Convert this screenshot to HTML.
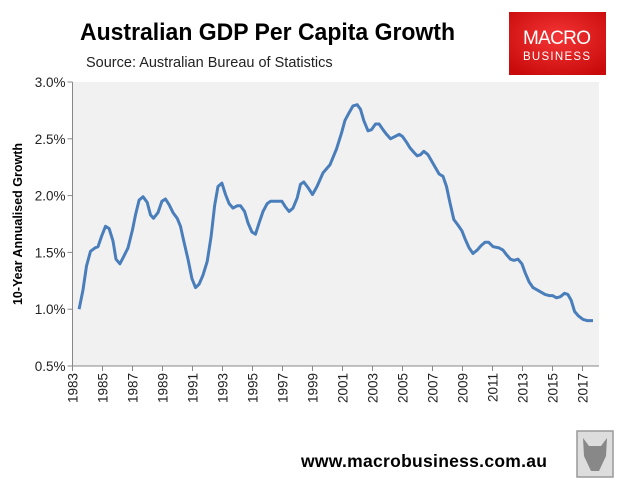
<!DOCTYPE html>
<html><head><meta charset="utf-8"><style>
body{margin:0;background:#fff;width:624px;height:489px;overflow:hidden;font-family:"Liberation Sans",sans-serif}
</style></head><body>
<svg id="chart" width="624" height="489" xmlns="http://www.w3.org/2000/svg" font-family="Liberation Sans, sans-serif">
<text x="80" y="40" font-size="24" font-weight="bold" fill="#000" textLength="375" lengthAdjust="spacingAndGlyphs">Australian GDP Per Capita Growth</text>
<text x="86" y="67" font-size="14.5" fill="#222">Source: Australian Bureau of Statistics</text>
<g>
<defs><radialGradient id="rg" cx="0.5" cy="0.4" r="0.7"><stop offset="0" stop-color="#f53535"/><stop offset="1" stop-color="#c80a0a"/></radialGradient></defs>
<rect x="509" y="12" width="97" height="63" fill="url(#rg)"/>
<text x="557" y="44" font-size="19" fill="#fff" text-anchor="middle" textLength="68">MACRO</text>
<text x="557" y="60" font-size="11.5" fill="#fff" text-anchor="middle" textLength="68" letter-spacing="1">BUSINESS</text>
</g>
<rect x="72" y="82" width="527" height="284" fill="#f1f1f1"/>
<g id="axes"></g>
<path id="line" fill="none" stroke="#4a7ebb" stroke-width="3" stroke-linejoin="round"/>
<text transform="translate(22,224) rotate(-90)" font-size="12.5" font-weight="bold" text-anchor="middle">10-Year Annualised Growth</text>
<text x="301" y="467" font-size="17.5" font-weight="bold" textLength="246">www.macrobusiness.com.au</text>
<g>
<rect x="577" y="431" width="36" height="46" fill="#ddd" stroke="#999" stroke-width="1.5"/>
<path d="M583 438 L589 446 L601 446 L607 438 L606 456 L599 471 L591 471 L584 456 Z" fill="#888"/>
</g>
</svg>
<script>
const years=[1983.44,1983.7,1983.93,1984.2,1984.5,1984.7,1984.93,1985.2,1985.44,1985.7,1985.9,1986.16,1986.4,1986.7,1987.0,1987.2,1987.44,1987.7,1987.98,1988.2,1988.4,1988.7,1988.96,1989.2,1989.44,1989.7,1989.98,1990.2,1990.4,1990.7,1990.96,1991.2,1991.44,1991.7,1991.98,1992.24,1992.47,1992.7,1992.96,1993.2,1993.44,1993.7,1993.98,1994.2,1994.47,1994.7,1994.96,1995.2,1995.44,1995.7,1995.98,1996.2,1996.47,1996.96,1997.2,1997.44,1997.7,1997.98,1998.2,1998.42,1998.7,1999.0,1999.3,1999.7,2000.16,2000.6,2000.93,2001.16,2001.44,2001.7,2001.98,2002.2,2002.42,2002.7,2002.93,2003.2,2003.44,2003.7,2003.93,2004.2,2004.5,2004.78,2005.0,2005.27,2005.5,2005.76,2005.98,2006.2,2006.42,2006.7,2006.96,2007.22,2007.44,2007.7,2007.93,2008.16,2008.42,2008.7,2008.96,2009.2,2009.44,2009.7,2009.98,2010.24,2010.5,2010.73,2011.04,2011.44,2011.7,2011.93,2012.2,2012.42,2012.7,2012.96,2013.18,2013.44,2013.7,2013.98,2014.24,2014.5,2014.78,2015.0,2015.27,2015.53,2015.8,2016.02,2016.24,2016.47,2016.73,2017.04,2017.3,2017.7];
const growth=[1.0,1.17,1.38,1.51,1.54,1.55,1.64,1.73,1.71,1.6,1.44,1.40,1.46,1.54,1.70,1.83,1.96,1.99,1.94,1.83,1.80,1.85,1.95,1.97,1.92,1.85,1.80,1.73,1.61,1.44,1.27,1.19,1.22,1.30,1.42,1.64,1.91,2.08,2.11,2.01,1.93,1.89,1.91,1.91,1.86,1.76,1.68,1.66,1.76,1.86,1.93,1.95,1.95,1.95,1.90,1.86,1.89,1.98,2.10,2.12,2.07,2.01,2.08,2.20,2.27,2.41,2.55,2.66,2.73,2.79,2.80,2.76,2.66,2.57,2.58,2.63,2.63,2.58,2.54,2.50,2.52,2.54,2.52,2.47,2.42,2.38,2.35,2.36,2.39,2.36,2.30,2.24,2.19,2.17,2.08,1.94,1.79,1.74,1.69,1.61,1.54,1.49,1.52,1.56,1.59,1.59,1.55,1.54,1.52,1.48,1.44,1.43,1.44,1.40,1.32,1.24,1.19,1.17,1.15,1.13,1.12,1.12,1.10,1.11,1.14,1.13,1.08,0.98,0.94,0.91,0.90,0.90];
const yTicks=[0.5,1.0,1.5,2.0,2.5,3.0];
const xTicks=[1983,1985,1987,1989,1991,1993,1995,1997,1999,2001,2003,2005,2007,2009,2011,2013,2015,2017];
const X0=72.5,Y0=366,Y1=82;
function xs(y){return X0+(y-1983)*15;}
function ys(v){return Y0-(v-0.5)/2.5*(Y0-Y1);}
const NS="http://www.w3.org/2000/svg";
const ax=document.getElementById('axes');
function mk(t,a){const e=document.createElementNS(NS,t);for(const k in a)e.setAttribute(k,a[k]);ax.appendChild(e);return e;}
mk('line',{x1:X0,y1:Y1,x2:X0,y2:Y0,stroke:'#888','stroke-width':1});
mk('line',{x1:X0,y1:Y0,x2:599,y2:Y0,stroke:'#888','stroke-width':1});
yTicks.forEach(v=>{
  const y=ys(v);
  const t=mk('line',{x1:X0-5,y1:y,x2:X0,y2:y,stroke:'#888'});
  
  
  const l=mk('text',{x:X0-7,y:y+5,'font-size':13.5,'text-anchor':'end',fill:'#222'});
  l.textContent=v.toFixed(1)+'%';
  
  
});
xTicks.forEach(yr=>{
  const x=xs(yr);
  const t=mk('line',{x1:x,y1:Y0,x2:x,y2:Y0+5,stroke:'#888'});
  
  
  const l=mk('text',{transform:`translate(${x+5},${Y0+7}) rotate(-90)`,'font-size':13.5,'text-anchor':'end',fill:'#222'});
  l.textContent=yr;
  
  
});
document.getElementById('line').setAttribute('d',years.map((y,i)=>(i?'L':'M')+xs(y).toFixed(1)+' '+ys(growth[i]).toFixed(1)).join(' '));
</script>
</body></html>
